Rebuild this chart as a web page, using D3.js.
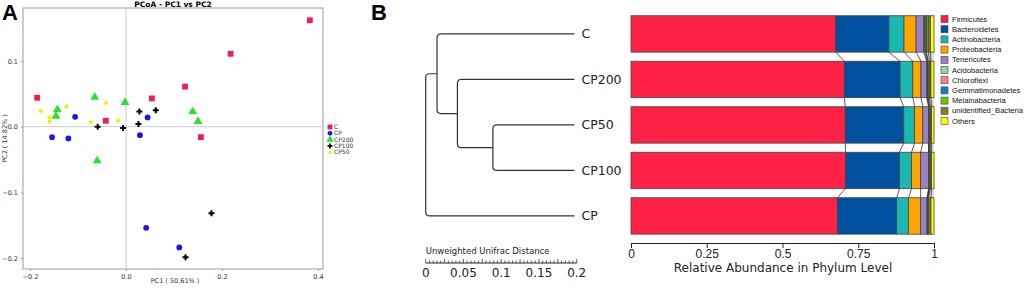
<!DOCTYPE html>
<html>
<head>
<meta charset="utf-8">
<script src="https://cdn.jsdelivr.net/npm/d3@7"></script>
<style>
  body { margin: 0; background: #fff; }
  svg { display: block; font-family: "DejaVu Sans", sans-serif; }
</style>
</head>
<body>
<div id="chart"></div>
<script>
// ---- data ----
// panel A: PCoA points per group [PC1, PC2]
const groups = ["C", "CP", "CP200", "CP100", "CP50"];
const ptsC = [[0.383, 0.162], [0.218, 0.111], [0.123, 0.061], [0.054, 0.043], [-0.042, 0.009], [-0.185, 0.044], [0.156, -0.016]];
const ptsCP = [[-0.106, 0.015], [-0.154, -0.016], [-0.120, -0.018], [0.045, 0.014], [0.029, -0.013], [0.042, -0.154], [0.111, -0.184]];
const ptsCP200 = [[-0.065, 0.045], [-0.002, 0.037], [-0.143, 0.026], [-0.146, 0.016], [0.139, 0.023], [0.150, 0.008], [-0.060, -0.052]];
const ptsCP100 = [[0.028, 0.023], [0.062, 0.025], [0.026, 0.004], [-0.059, 0.000], [-0.006, -0.002], [0.178, -0.132], [0.124, -0.199]];
const ptsCP50 = [[-0.178, 0.024], [-0.159, 0.014], [-0.159, 0.008], [-0.124, 0.031], [-0.073, 0.007], [-0.042, 0.036], [-0.016, 0.009]];
const pcTicks = [-0.2, 0.0, 0.2, 0.4];
const pc2Ticks = [0.1, 0.0, -0.1, -0.2];

// panel B: tree + phylum abundance
const samples = ["C", "CP200", "CP50", "CP100", "CP"];
const phyla = ["Firmicutes", "Bacteroidetes", "Actinobacteria", "Proteobacteria", "Tenericutes",
  "Acidobacteria", "Chloroflexi", "Gemmatimonadetes", "Melainabacteria", "unidentified_Bacteria", "Others"];
const abC     = [0.676, 0.175, 0.050, 0.040, 0.025, 0.003, 0.004, 0.002, 0.006, 0.007, 0.012];
const abCP200 = [0.704, 0.184, 0.042, 0.027, 0.019, 0.002, 0.002, 0.001, 0.004, 0.005, 0.010];
const abCP50  = [0.707, 0.193, 0.036, 0.027, 0.019, 0.001, 0.001, 0.001, 0.003, 0.004, 0.008];
const abCP100 = [0.708, 0.178, 0.040, 0.030, 0.026, 0.001, 0.001, 0.001, 0.003, 0.004, 0.008];
const abCP    = [0.681, 0.196, 0.039, 0.040, 0.021, 0.001, 0.001, 0.001, 0.002, 0.008, 0.010];
const abTicks = [0, 0.25, 0.5, 0.75, 1];
const distTicks = [0, 0.05, 0.1, 0.15, 0.2];
// UPGMA merges: [childA, childB, node name, node height]
const merges = [["CP50", "CP100", "n1", 0.089], ["CP200", "n1", "n2", 0.042], ["C", "n2", "n3", 0.015], ["n3", "CP", "root", 0.0]];
const leafDist = 0.197;

const width = 1024, height = 289;
const svg = d3.select("#chart").append("svg")
  .attr("width", width).attr("height", height)
  .attr("viewBox", [0, 0, width, height]);

/* ---------- panel A ---------- */
const pa = ({ left: 23, right: 323, top: 8, bottom: 269 });
const x = d3.scaleLinear().domain([-0.2, 0.4]).range([30, 318]);
const y = d3.scaleLinear().domain([-0.2, 0.1]).range([258, 61]);

svg.append("text").attr("x", 2).attr("y", 20)
  .attr("font-size", 22).attr("font-weight", "bold").attr("font-family", "Liberation Sans, Arial")
  .text("A");
svg.append("text").attr("x", (pa.left + pa.right) / 2).attr("y", 7)
  .attr("text-anchor", "middle").attr("font-size", 7.5).attr("font-weight", "bold")
  .text("PCoA - PC1 vs PC2");

// zero lines
svg.append("line").attr("x1", x(0)).attr("x2", x(0)).attr("y1", pa.top).attr("y2", pa.bottom)
  .attr("stroke", "#ccc").attr("stroke-width", 1);
svg.append("line").attr("x1", pa.left).attr("x2", pa.right).attr("y1", y(0)).attr("y2", y(0))
  .attr("stroke", "#ccc").attr("stroke-width", 1);

svg.append("rect").attr("x", pa.left).attr("y", pa.top)
  .attr("width", pa.right - pa.left).attr("height", pa.bottom - pa.top)
  .attr("fill", "none").attr("stroke", "#999");

const gxA = svg.append("g").attr("transform", `translate(0,${pa.bottom})`)
  .call(d3.axisBottom(x).tickValues(pcTicks).tickFormat(d3.format(".1f")).tickSize(2).tickSizeOuter(0));
const gyA = svg.append("g").attr("transform", `translate(${pa.left},0)`)
  .call(d3.axisLeft(y).tickValues(pc2Ticks).tickFormat(d3.format(".1f")).tickSize(2).tickSizeOuter(0));
[gxA, gyA].forEach(g => {
  g.select(".domain").remove();
  g.selectAll("line").attr("stroke", "#999");
  g.selectAll("text").attr("font-size", 6.5).attr("fill", "#333").attr("font-family", "DejaVu Sans");
});

svg.append("text").attr("x", 175).attr("y", 283).attr("text-anchor", "middle")
  .attr("font-size", 6.5).attr("fill", "#333").text("PC1 ( 50.61% )");
svg.append("text").attr("transform", `translate(7,${(pa.top + pa.bottom) / 2}) rotate(-90)`)
  .attr("text-anchor", "middle").attr("font-size", 6.5).attr("fill", "#333").text("PC2 ( 14.82% )");

const pointSets = [ptsC, ptsCP, ptsCP200, ptsCP100, ptsCP50];
const colA = ["#F22048", "#1414FF", "#2EE02E", "#000000", "#F2F200"];
const symA = [[d3.symbolSquare, 34], [d3.symbolCircle, 26], [d3.symbolTriangle, 34], [d3.symbolCross, 20], [d3.symbolCircle, 14]];

pointSets.forEach((pts, i) => {
  svg.append("g").selectAll("path").data(pts).join("path")
    .attr("transform", d => `translate(${x(d[0])},${y(d[1])})`)
    .attr("d", d3.symbol(symA[i][0], symA[i][1]))
    .attr("fill", colA[i]);
});

const legA = svg.append("g").selectAll("g").data(groups).join("g")
  .attr("transform", (d, i) => `translate(330,${127 + i * 6.3})`);
legA.append("path").attr("d", (d, i) => d3.symbol(symA[i][0], symA[i][1] * 0.7)())
  .attr("fill", (d, i) => colA[i]);
legA.append("text").attr("x", 4).attr("dy", "0.35em").attr("font-size", 6).attr("fill", "#333").text(d => d);

/* ---------- panel B ---------- */
svg.append("text").attr("x", 371).attr("y", 20)
  .attr("font-size", 22).attr("font-weight", "bold").attr("font-family", "Liberation Sans, Arial")
  .text("B");

const band = d3.scaleBand().domain(samples).range([11.2, 238.7]).paddingInner(0.2).paddingOuter(0.1);
const dx = d3.scaleLinear().domain([0, 0.2]).range([425.7, 576.7]);

// tree layout from merges
const nodes = {};
samples.forEach(s => nodes[s] = { name: s, y: band(s) + band.bandwidth() / 2, h: leafDist, leaf: true });
merges.forEach(([a, b, n, h]) => {
  nodes[n] = { name: n, y: (nodes[a].y + nodes[b].y) / 2, h: h, kids: [nodes[a], nodes[b]] };
});
const links = [];
merges.forEach(([a, b, n]) => nodes[n].kids.forEach(k => links.push([nodes[n], k])));
const r = 4;
svg.append("g").selectAll("path").data(links).join("path")
  .attr("fill", "none").attr("stroke", "#333").attr("stroke-width", 1.2)
  .attr("d", ([p, c]) => {
    const px = dx(p.h), cx = dx(c.h), s = c.y > p.y ? 1 : -1;
    return `M${px},${p.y}V${c.y - s * r}Q${px},${c.y} ${px + r},${c.y}H${cx}`;
  });
svg.append("g").selectAll("text").data(samples).join("text")
  .attr("x", dx(leafDist) + 7).attr("y", d => nodes[d].y).attr("dy", "0.36em")
  .attr("font-size", 12.5).attr("fill", "#222").text(d => d);

// distance scale bar
svg.append("text").attr("x", dx(0)).attr("y", 254).attr("font-size", 8.5).attr("fill", "#222")
  .text("Unweighted Unifrac Distance");
const gd = svg.append("g").attr("transform", "translate(0,263)");
gd.append("line").attr("x1", dx(0)).attr("x2", dx(0.2)).attr("stroke", "#222");
gd.selectAll("line.t").data(d3.range(0, 41)).join("line").attr("class", "t")
  .attr("x1", d => dx(d * 0.005)).attr("x2", d => dx(d * 0.005))
  .attr("y1", 0).attr("y2", d => d % 5 === 0 ? -4 : -2.5).attr("stroke", "#222").attr("stroke-width", 0.7);
gd.selectAll("text").data(distTicks).join("text")
  .attr("x", d => dx(d)).attr("y", 14).attr("text-anchor", "middle")
  .attr("font-size", 12).attr("fill", "#222").text(d => d);

// stacked bars
const bx = d3.scaleLinear().domain([0, 1]).range([631, 934]);
const colB = d3.scaleOrdinal().domain(phyla).range(["#FF2146", "#0050A0", "#19B9B2", "#FFA500", "#9B80C6",
  "#8ED7A0", "#F28686", "#0A80D0", "#63C800", "#7F7F3A", "#FFFF00"]);
const abund = { "C": abC, "CP200": abCP200, "CP50": abCP50, "CP100": abCP100, "CP": abCP };
const cum = {};
samples.forEach(s => cum[s] = [0, ...d3.cumsum(abund[s])]);

// connectors between neighbouring bars
for (let i = 0; i < samples.length - 1; i++) {
  const a = samples[i], b = samples[i + 1];
  const y0 = band(a) + band.bandwidth(), y1 = band(b);
  svg.append("path")
    .attr("d", `M${bx(cum[a][9])},${y0}L${bx(1)},${y0}L${bx(1)},${y1}L${bx(cum[b][9])},${y1}Z`)
    .attr("fill", "#ddd").attr("stroke", "none");
  svg.append("g").selectAll("line").data(d3.range(1, phyla.length)).join("line")
    .attr("x1", k => bx(cum[a][k])).attr("y1", y0)
    .attr("x2", k => bx(cum[b][k])).attr("y2", y1)
    .attr("stroke", "#333").attr("stroke-width", 0.8);
}

samples.forEach(s => {
  svg.append("g").selectAll("rect").data(phyla).join("rect")
    .attr("x", (p, k) => bx(cum[s][k])).attr("width", (p, k) => Math.max(0, bx(cum[s][k + 1]) - bx(cum[s][k])))
    .attr("y", band(s)).attr("height", band.bandwidth())
    .attr("fill", p => colB(p)).attr("stroke", "#444").attr("stroke-width", 0.8);
});

const gxB = svg.append("g").attr("transform", "translate(0,243)")
  .call(d3.axisBottom(bx).tickValues(abTicks).tickFormat(d => d).tickSize(5).tickSizeOuter(0));
gxB.select(".domain").attr("stroke", "#222");
gxB.selectAll("line").attr("stroke", "#222");
gxB.selectAll("text").attr("font-size", 12).attr("fill", "#222").attr("dy", "0.55em");
svg.append("text").attr("x", 783).attr("y", 272).attr("text-anchor", "middle")
  .attr("font-size", 12).attr("fill", "#222").text("Relative Abundance in Phylum Level");

// legend B
const legB = svg.append("g").selectAll("g").data(phyla).join("g")
  .attr("transform", (d, i) => `translate(941,${19 + i * 10.2})`);
legB.append("rect").attr("x", 0).attr("y", -3.5).attr("width", 7).attr("height", 7)
  .attr("fill", d => colB(d)).attr("stroke", "#444").attr("stroke-width", 0.6);
legB.append("text").attr("x", 11).attr("dy", "0.35em").attr("font-size", 7.6)
  .attr("font-family", "Liberation Sans, Arial").attr("fill", "#111").text(d => d);
</script>
</body>
</html>
